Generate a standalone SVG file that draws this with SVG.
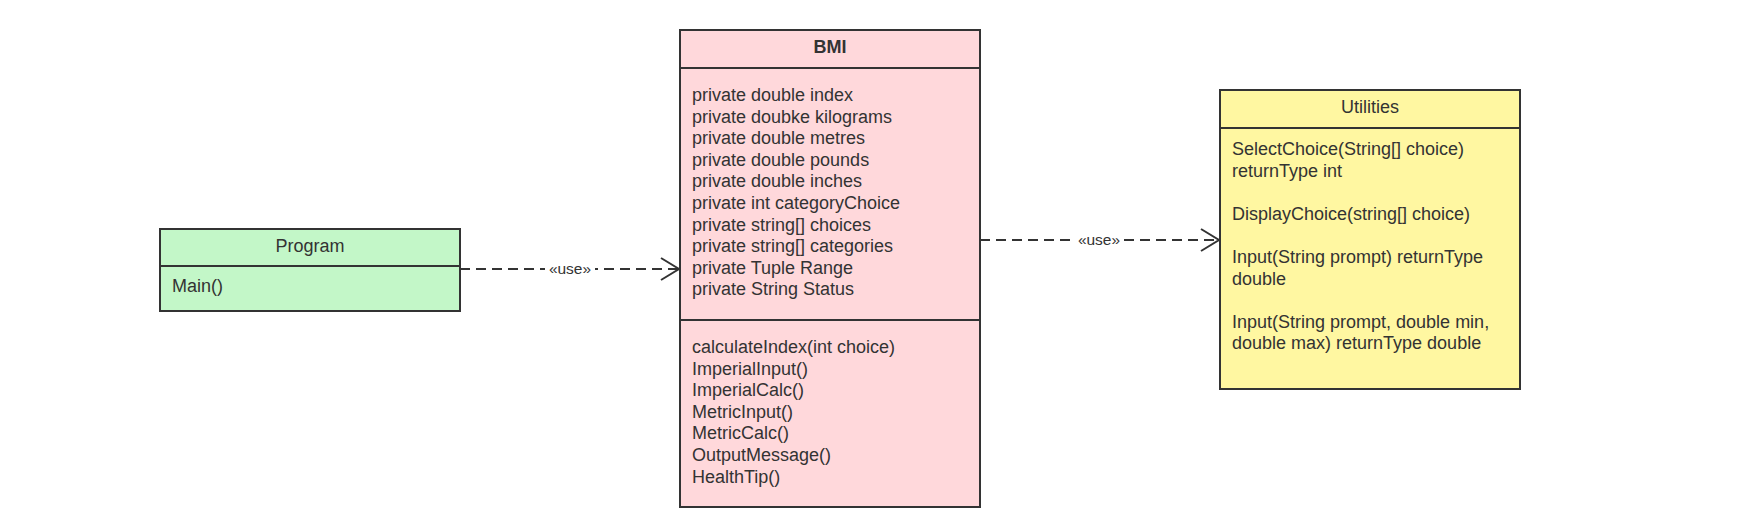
<svg xmlns="http://www.w3.org/2000/svg" width="1760" height="528" viewBox="0 0 1760 528">
<style>
.box{stroke:#333;stroke-width:2}
.t{font-family:"Liberation Sans",Arial,sans-serif;font-size:18px;fill:#333}
.c{text-anchor:middle}
.b{font-weight:bold}
.conn{fill:none;stroke:#333;stroke-width:2;stroke-dasharray:10 6}
.lbl{font-family:"Liberation Sans",Arial,sans-serif;font-size:15.5px;fill:#333;text-anchor:middle}
</style>
<defs>
<marker id="open" markerWidth="22" markerHeight="26" refX="19" refY="13" orient="auto" markerUnits="userSpaceOnUse">
<path d="M1,2 L19,13 L1,24" fill="none" stroke="#333" stroke-width="2"/>
</marker>
</defs>
<rect width="1760" height="528" fill="#ffffff"/>
<g id="connectors">
<path class="conn" d="M460,269 L679,269" marker-end="url(#open)"/>
<rect x="545" y="259" width="50" height="18" fill="#ffffff"/>
<text class="lbl" x="570" y="274">«use»</text>
<path class="conn" d="M980,240 L1219,240" marker-end="url(#open)"/>
<rect x="1074" y="230" width="50" height="18" fill="#ffffff"/>
<text class="lbl" x="1099" y="245">«use»</text>
</g>
<g id="program">
<rect class="box" x="160" y="229" width="300" height="82" fill="#c3f7c8"/>
<line class="box" x1="160" y1="266" x2="460" y2="266"/>
<text class="t c" x="310" y="252">Program</text>
<text class="t" x="172" y="292">Main()</text>
</g>
<g id="bmi">
<rect class="box" x="680" y="30" width="300" height="477" fill="#ffd8db"/>
<line class="box" x1="680" y1="68" x2="980" y2="68"/>
<line class="box" x1="680" y1="320" x2="980" y2="320"/>
<text class="t c b" x="830" y="53">BMI</text>
<text class="t" x="692" y="101">
<tspan x="692" dy="0">private double index</tspan>
<tspan x="692" dy="21.6">private doubke kilograms</tspan>
<tspan x="692" dy="21.6">private double metres</tspan>
<tspan x="692" dy="21.6">private double pounds</tspan>
<tspan x="692" dy="21.6">private double inches</tspan>
<tspan x="692" dy="21.6">private int categoryChoice</tspan>
<tspan x="692" dy="21.6">private string[] choices</tspan>
<tspan x="692" dy="21.6">private string[] categories</tspan>
<tspan x="692" dy="21.6">private Tuple Range</tspan>
<tspan x="692" dy="21.6">private String Status</tspan>
</text>
<text class="t" x="692" y="353">
<tspan x="692" dy="0">calculateIndex(int choice)</tspan>
<tspan x="692" dy="21.6">ImperialInput()</tspan>
<tspan x="692" dy="21.6">ImperialCalc()</tspan>
<tspan x="692" dy="21.6">MetricInput()</tspan>
<tspan x="692" dy="21.6">MetricCalc()</tspan>
<tspan x="692" dy="21.6">OutputMessage()</tspan>
<tspan x="692" dy="21.6">HealthTip()</tspan>
</text>
</g>
<g id="utilities">
<rect class="box" x="1220" y="90" width="300" height="299" fill="#fff7a1"/>
<line class="box" x1="1220" y1="128" x2="1520" y2="128"/>
<text class="t c" x="1370" y="113">Utilities</text>
<text class="t" x="1232" y="155">
<tspan x="1232" dy="0">SelectChoice(String[] choice)</tspan>
<tspan x="1232" dy="21.6">returnType int</tspan>
<tspan x="1232" dy="43.2">DisplayChoice(string[] choice)</tspan>
<tspan x="1232" dy="43.2">Input(String prompt) returnType</tspan>
<tspan x="1232" dy="21.6">double</tspan>
<tspan x="1232" dy="43.2">Input(String prompt, double min,</tspan>
<tspan x="1232" dy="21.6">double max) returnType double</tspan>
</text>
</g>
</svg>
